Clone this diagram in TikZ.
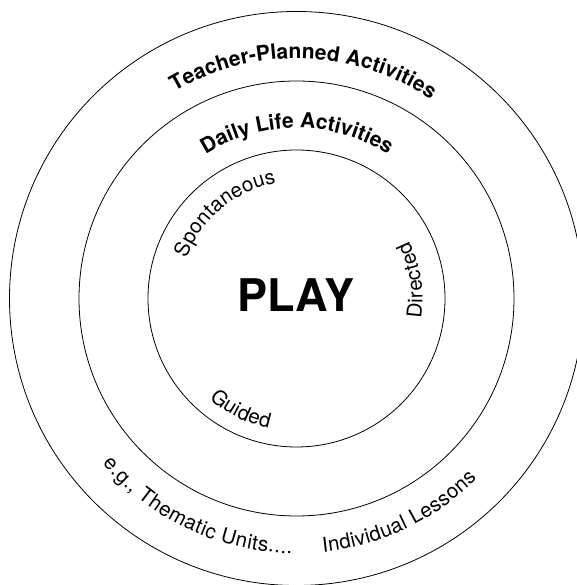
\documentclass[tikz,border=0pt]{standalone}
\usepackage{fontspec}
\setmainfont{TeX Gyre Heros}
\usetikzlibrary{decorations.text}
\newcommand\ringbold{\fontsize{21}{23}\selectfont\bfseries}
\newcommand\ringreg{\fontsize{20.5}{23}\selectfont}
\begin{document}
\begin{tikzpicture}[x=1pt,y=1pt,
  ring/.style={draw, circle, line width=0.8pt, inner sep=0pt, outer sep=0pt},
  ringtext/.style={decorate, decoration={text along path, text align={fit to path}, text={#1}}}]
\useasboundingbox (0,0) rectangle (576,585);
\coordinate (C) at (296.5,286.5);
\node[ring, minimum size=574pt] (outer) at (C) {};
\node[ring, minimum size=435pt] (middle) at (C) {};
\node[ring, minimum size=297pt] (inner) at (C) {};
\node[inner sep=0pt, font=\fontsize{45}{45}\selectfont\bfseries] (play) at (296,290) {PLAY};
% outer ring
\path[ringtext={|\ringbold|Teacher-Planned Activities}] ([shift={(120.5:240)}]C) arc[start angle=120.5, end angle=56, radius=240pt];
\path[ringtext={|\ringreg|e.g., Thematic Units....}] ([shift={(220.4:255)}]C) arc[start angle=220.4, end angle=269, radius=255pt];
\path[ringtext={|\ringreg|Individual Lessons}] ([shift={(276:255)}]C) arc[start angle=276, end angle=315, radius=255pt];
% middle ring
\path[ringtext={|\ringbold|Daily Life Activities}] ([shift={(122.2:170.5)}]C) arc[start angle=122.2, end angle=58.4, radius=170.5pt];
% inner circle
\path[ringtext={|\ringreg|Spontaneous}] ([shift={(160:117)}]C) arc[start angle=160, end angle=100, radius=117pt];
\path[ringtext={|\ringreg|Directed}] ([shift={(-9:126)}]C) arc[start angle=-9, end angle=27, radius=126pt];
\path[ringtext={|\ringreg|Guided}] ([shift={(229:133)}]C) arc[start angle=229, end angle=258, radius=133pt];
\end{tikzpicture}
\end{document}
